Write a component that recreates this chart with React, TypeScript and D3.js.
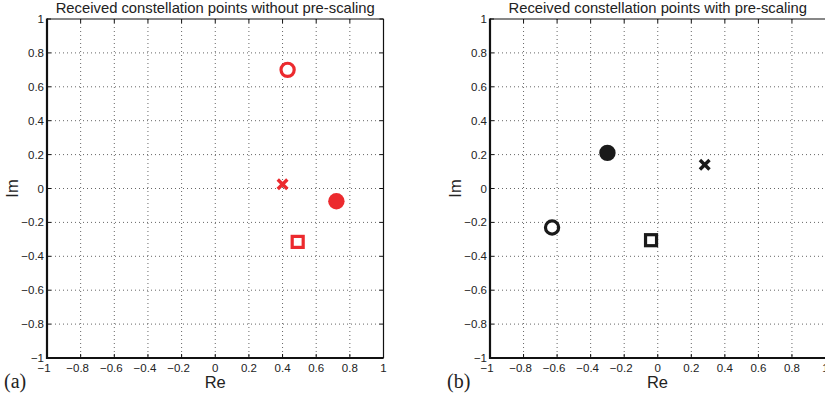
import { useEffect, useRef } from "react";
import * as d3 from "d3";

// tick values shared by both axes
const TICKS = [-1, -0.8, -0.6, -0.4, -0.2, 0, 0.2, 0.4, 0.6, 0.8, 1];

// panel (a): received points without pre-scaling
const aShapes = ["circle", "cross", "dot", "square"];
const aRe = [0.43, 0.4, 0.72, 0.49];
const aIm = [0.7, 0.025, -0.075, -0.315];

// panel (b): received points with pre-scaling
const bShapes = ["dot", "cross", "circle", "square"];
const bRe = [-0.3, 0.28, -0.63, -0.04];
const bIm = [0.21, 0.14, -0.23, -0.305];

const FONT = "'Liberation Sans', Arial, Helvetica, sans-serif";

type Panel = {
  left: number;
  right: number;
  title: string;
  tag: string;
  color: string;
  shapes: string[];
  re: number[];
  im: number[];
  drawRight: boolean;
};

const PANELS: Panel[] = [
  {
    left: 47, right: 383.5,
    title: "Received constellation points without pre-scaling",
    tag: "(a)", color: "#ec2a2e",
    shapes: aShapes, re: aRe, im: aIm, drawRight: true,
  },
  {
    left: 490, right: 825.5,
    title: "Received constellation points with pre-scaling",
    tag: "(b)", color: "#1a1a1a",
    shapes: bShapes, re: bRe, im: bIm, drawRight: false,
  },
];

export default function App() {
  const svgRef = useRef<SVGSVGElement>(null);

  useEffect(() => {
    if (!svgRef.current) return;
    const svg = d3.select(svgRef.current);
    svg.selectAll("*").remove();

    const top = 19;
    const bottom = 358;

    PANELS.forEach((p) => {
      const x = d3.scaleLinear().domain([-1, 1]).range([p.left, p.right]);
      const y = d3.scaleLinear().domain([-1, 1]).range([bottom, top]);
      const g = svg.append("g");

      // dotted grid
      TICKS.slice(1, -1).forEach((t) => {
        g.append("line")
          .attr("x1", x(t)).attr("x2", x(t))
          .attr("y1", top).attr("y2", bottom)
          .attr("stroke", "#666").attr("stroke-width", 1)
          .attr("stroke-dasharray", "1,3");
        g.append("line")
          .attr("x1", p.left).attr("x2", p.right)
          .attr("y1", y(t)).attr("y2", y(t))
          .attr("stroke", "#666").attr("stroke-width", 1)
          .attr("stroke-dasharray", "1,3");
      });

      // tick marks on all sides
      const tl = 4;
      TICKS.forEach((t) => {
        g.append("line").attr("x1", x(t)).attr("x2", x(t))
          .attr("y1", bottom).attr("y2", bottom - tl).attr("stroke", "#111");
        g.append("line").attr("x1", x(t)).attr("x2", x(t))
          .attr("y1", top).attr("y2", top + tl).attr("stroke", "#111");
        g.append("line").attr("x1", p.left).attr("x2", p.left + tl)
          .attr("y1", y(t)).attr("y2", y(t)).attr("stroke", "#111");
        if (p.drawRight) {
          g.append("line").attr("x1", p.right).attr("x2", p.right - tl)
            .attr("y1", y(t)).attr("y2", y(t)).attr("stroke", "#111");
        }
      });

      // box
      g.append("line").attr("x1", p.left).attr("x2", p.right)
        .attr("y1", top).attr("y2", top).attr("stroke", "#111").attr("stroke-width", 1.2);
      if (p.drawRight) {
        g.append("line").attr("x1", p.right).attr("x2", p.right)
          .attr("y1", top).attr("y2", bottom).attr("stroke", "#111").attr("stroke-width", 1.2);
      }
      g.append("line").attr("x1", p.left).attr("x2", p.left)
        .attr("y1", top - 0.5).attr("y2", bottom + 1).attr("stroke", "#111").attr("stroke-width", 2.2);
      g.append("line").attr("x1", p.left - 1).attr("x2", p.right)
        .attr("y1", bottom).attr("y2", bottom).attr("stroke", "#111").attr("stroke-width", 2.2);

      // tick labels
      const fmt = (t: number) => (t === 0 ? "0" : String(t).replace("-", "\u2212"));
      TICKS.forEach((t) => {
        g.append("text")
          .attr("x", p.left - 3).attr("y", y(t) + 4)
          .attr("text-anchor", "end")
          .attr("font-family", FONT).attr("font-size", 11.5).attr("fill", "#222")
          .text(fmt(t));
        g.append("text")
          .attr("x", x(t) + (t < 0 ? -3 : 0)).attr("y", bottom + 14)
          .attr("text-anchor", "middle")
          .attr("font-family", FONT).attr("font-size", 11.5).attr("fill", "#222")
          .text(fmt(t));
      });

      // titles and axis labels
      const cx = (p.left + Math.min(p.right, 825)) / 2;
      g.append("text")
        .attr("x", (p.left + p.right) / 2).attr("y", 13)
        .attr("text-anchor", "middle")
        .attr("font-family", FONT).attr("font-size", 14.8).attr("fill", "#222")
        .text(p.title);
      g.append("text")
        .attr("x", cx).attr("y", 388)
        .attr("text-anchor", "middle")
        .attr("font-family", FONT).attr("font-size", 16.5).attr("fill", "#222")
        .text("Re");
      g.append("text")
        .attr("transform", `translate(${p.left - 29},${y(0)}) rotate(-90)`)
        .attr("text-anchor", "middle")
        .attr("font-family", FONT).attr("font-size", 16.5).attr("fill", "#222")
        .text("Im");
      g.append("text")
        .attr("x", p.left - 43).attr("y", 388)
        .attr("font-family", "'Liberation Serif', 'Times New Roman', serif")
        .attr("font-size", 20).attr("fill", "#222")
        .text(p.tag);

      // constellation markers
      p.shapes.forEach((s, i) => {
        const px = x(p.re[i]);
        const py = y(p.im[i]);
        if (s === "circle") {
          g.append("circle").attr("cx", px).attr("cy", py).attr("r", 6.6)
            .attr("fill", "none").attr("stroke", p.color).attr("stroke-width", 3.2);
        } else if (s === "dot") {
          g.append("circle").attr("cx", px).attr("cy", py).attr("r", 8.2)
            .attr("fill", p.color);
        } else if (s === "square") {
          g.append("rect").attr("x", px - 5.5).attr("y", py - 5.5)
            .attr("width", 11).attr("height", 11)
            .attr("fill", "none").attr("stroke", p.color).attr("stroke-width", 3.2);
        } else {
          const h = 4.8;
          g.append("path")
            .attr("d", `M${px - h},${py - h}L${px + h},${py + h}M${px - h},${py + h}L${px + h},${py - h}`)
            .attr("stroke", p.color).attr("stroke-width", 3.4);
        }
      });
    });
  }, []);

  return (
    <svg
      ref={svgRef}
      width={825}
      height={397}
      style={{ position: "absolute", left: 0, top: 0, display: "block", background: "#fff" }}
    />
  );
}
